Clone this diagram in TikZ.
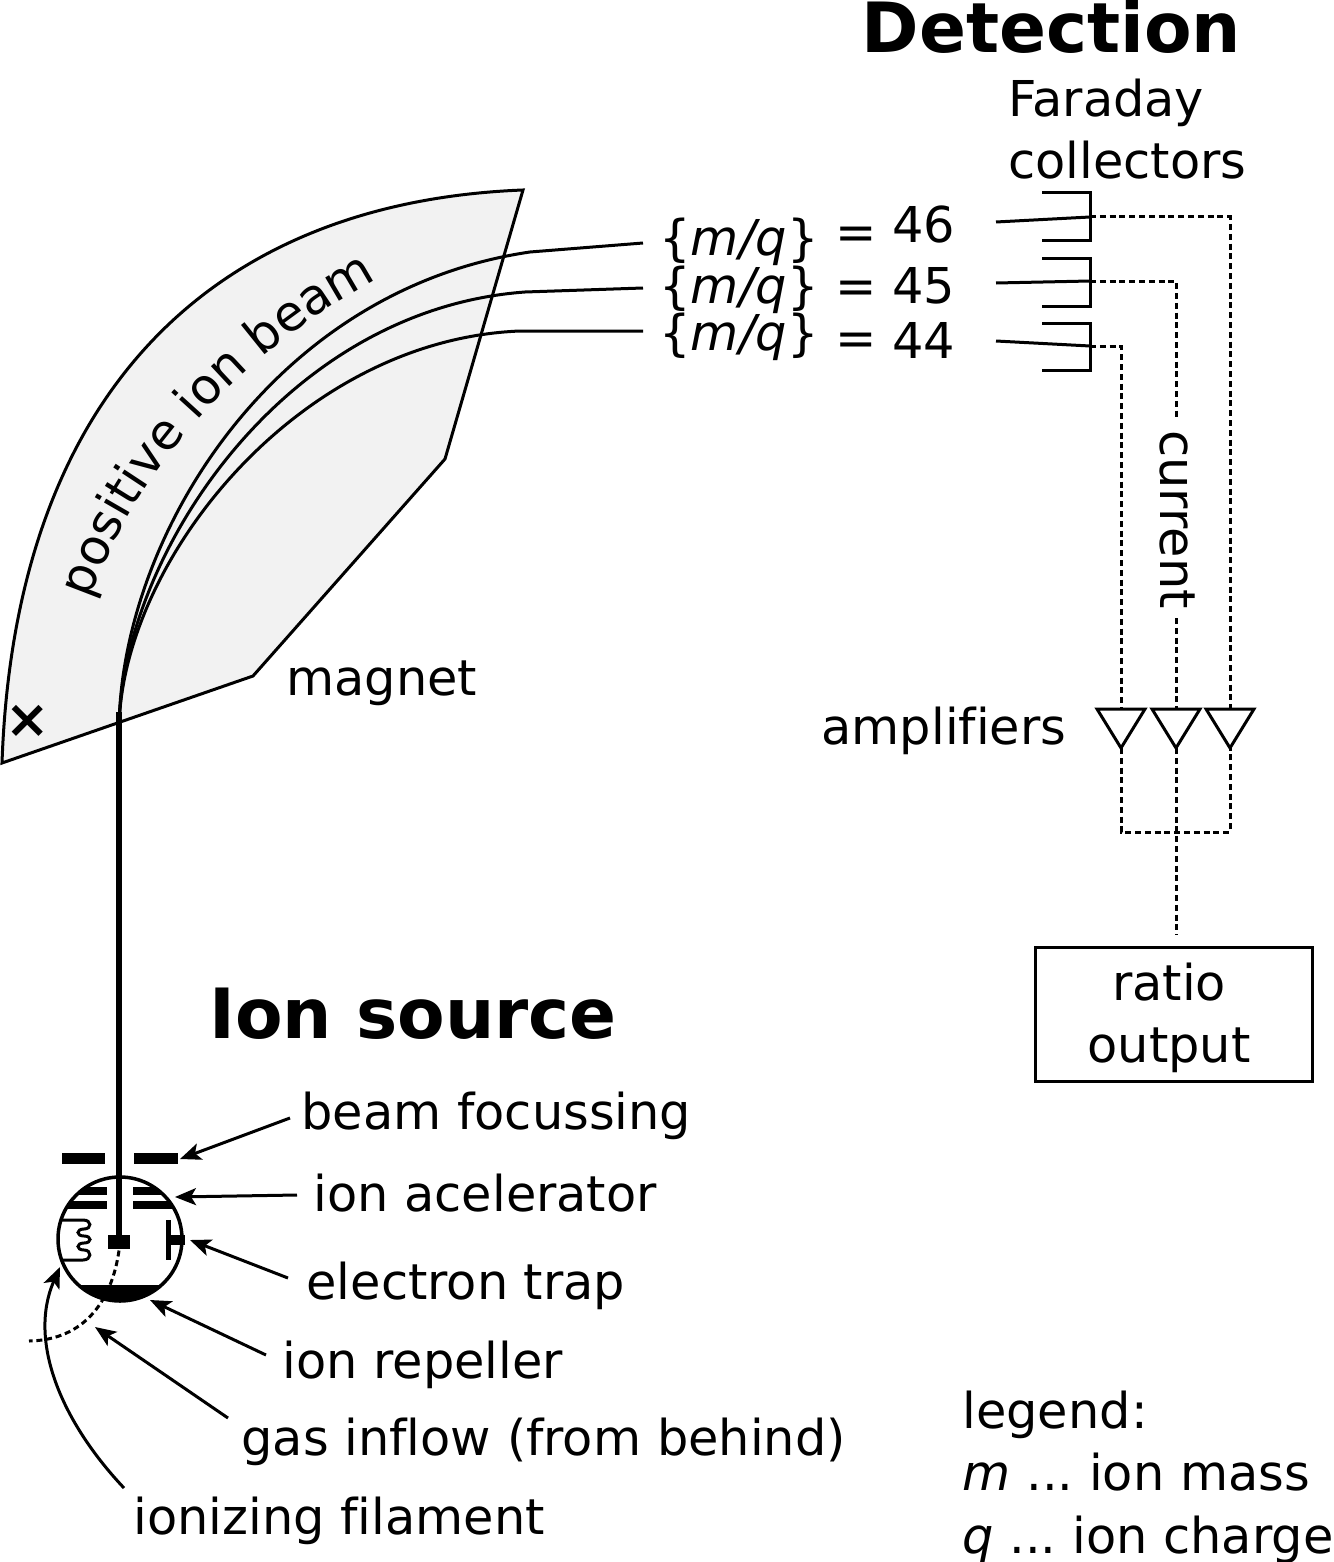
\documentclass[tikz,border=0pt]{standalone}
\usepackage{fontspec}
\setmainfont[Ligatures=NoCommon]{DejaVu Sans}
\usepackage{tikz}
\usetikzlibrary{calc,positioning,arrows.meta,decorations.text}
\frenchspacing

\begin{document}
\begin{tikzpicture}[x=1pt,y=-1pt,line width=3pt,
    lbl/.style={inner sep=0pt,anchor=base west,font=\fontsize{49.4}{62}\selectfont},
    headline/.style={inner sep=0pt,anchor=base west,font=\fontsize{69.3}{70}\selectfont\bfseries},
    ptr/.style={-{Stealth[length=21pt,width=17pt,inset=5pt]}},
    wire/.style={dash pattern=on 6pt off 3.8pt},
    plate/.style={fill=black,draw=none,inner sep=0pt}]
    \useasboundingbox (0,0) rectangle (1333,1562);

    % magnet
    \coordinate (c1) at (2,763);
    \coordinate (c2) at (253,676);
    \coordinate (c3) at (445,459);
    \coordinate (c4) at (523,190);
    \draw[fill=black!5] (c1) -- (c2) -- (c3) -- (c4) .. controls (215,202) and (15,390) .. (c1) -- cycle;
    \node[lbl] (magnet) at (285,695) {magnet};
    \node[font=\fontsize{53}{53}\selectfont\bfseries,inner sep=0pt] (cross) at (28,721) {×};
    \path[decorate,decoration={text along path,text align=left,
      text={|\fontsize{49.4}{62}\selectfont|positive ion beam}}]
      (90,600) .. controls (135,470) and (245,340) .. (415,260);

    % ion beam
    \coordinate (bend) at (119,730);
    \coordinate (merged) at (119,712);
    \coordinate (in46) at (643,243);
    \coordinate (in45) at (643,288);
    \coordinate (in44) at (643,331);
    \node[plate,minimum width=22pt,minimum height=14pt] (ionbox) at (119,1242) {};
    \draw[line width=5.5pt] (ionbox.center) -- (merged);
    \draw (bend) .. controls (120,540) and (270,290) .. (530,252) -- (in46);
    \draw (bend) .. controls (120,560) and (280,310) .. (525,292) -- (in45);
    \draw (bend) .. controls (120,565) and (295,340) .. (520,331) -- (in44);

    \foreach \n/\ya/\yb/\yc in {46/255/243/250,45/303/303/303,44/350/358/355} {
      \node[lbl] (mq\n) at (658,\ya) {\{\textit{m/q}\}};
      \node[lbl] (eq\n) at (834,\yc) {=};
      \node[lbl] (val\n) at (891,\yb) {\n};
    }

    % collectors
    \node[headline] (detection) at (860,53) {Detection};
    \node[lbl,align=left,anchor=north west] (faraday) at (1007,77) {Faraday\\collectors};
    \foreach \n/\ya/\yb/\yc/\yi in {46/193/241/217/222,45/258/306/281/283,44/323/370/346/341} {
      \coordinate (cup\n) at (1090,\yc);
      \coordinate (out\n) at (996,\yi);
      \draw (1042,\ya) -- (1090,\ya) -- (1090,\yb) -- (1042,\yb);
      \draw (out\n) -- (cup\n);
    }

    % amplifiers
    \foreach \n/\x in {44/1121,45/1176,46/1230} {
      \coordinate (amp\n) at (\x,708);
      \coordinate (ampout\n) at (\x,748);
      \draw (\x-24,709) -- (\x+24,709) -- (ampout\n) -- cycle;
    }
    \node[lbl] (amplifiers) at (820,744) {amplifiers};
    \node[lbl,rotate=-90] (current) at (1160,429) {current};
    \coordinate (gapa) at (1176,420);
    \coordinate (gapb) at (1176,618);
    \coordinate (junction) at (1176,832);
    \coordinate (ratioin) at (1176,935);
    \node[draw,minimum width=277pt,minimum height=134pt,inner sep=0pt] (ratio) at (1173.5,1014) {};
    \node[lbl,anchor=center,align=center,yshift=-4pt] (ratiotext) at (1169,1014) {ratio\\output};

    \draw[wire] (cup46) -| (amp46);
    \draw[wire] (cup45) -| (gapa);
    \draw[wire] (gapb) -- (amp45);
    \draw[wire] (cup44) -| (amp44);
    \draw[wire] (ampout44) |- (junction) -| (ampout46);
    \draw[wire] (ampout45) -- (ratioin);

    % ion source
    \node[headline] (source) at (208,1038) {Ion source};
    \begin{scope}
      \clip (120,1239) circle (62);
      \fill (40,1285) rectangle (200,1310);
      \fill (40,1187) rectangle (107,1195);
      \fill (40,1201) rectangle (107,1209);
      \fill (133,1187) rectangle (200,1195);
      \fill (133,1201) rectangle (200,1209);
    \end{scope}
    \draw[line width=3.5pt] (120,1239) circle (62);
    \node[plate,minimum width=43pt,minimum height=11pt] (lens1) at (83.5,1158.5) {};
    \node[plate,minimum width=44pt,minimum height=11pt] (lens2) at (156,1158.5) {};
    \draw (60,1220) -- (83,1220) .. controls (92,1220) and (92,1229) .. (84,1229)
      .. controls (76,1229) and (76,1236) .. (84,1236) .. controls (92,1236) and (92,1243) .. (84,1243)
      .. controls (76,1243) and (76,1250) .. (84,1250) .. controls (92,1250) and (92,1260) .. (83,1260) -- (62,1260);
    \draw[line width=5pt] (168,1220) -- (168,1260);
    \draw[line width=9.5pt] (168,1240) -- (185,1240);
    \coordinate (gasend) at (29,1341);
    \draw[wire] (ionbox.south) .. controls (112,1300) and (85,1340) .. (gasend);

    % labels with arrows
    \coordinate (tfocus) at (180,1159);
    \coordinate (taccel) at (175,1197);
    \coordinate (ttrap) at (190,1240);
    \coordinate (trepel) at (150,1300);
    \coordinate (tgas) at (95,1327);
    \coordinate (tfil) at (60,1267);
    \coordinate (sfocus) at (290,1118);
    \coordinate (saccel) at (297,1195);
    \coordinate (strap) at (288,1278);
    \coordinate (srepel) at (266,1355);
    \coordinate (sgas) at (228,1418);
    \coordinate (sfil) at (124,1488);
    \node[lbl] (focus) at (300,1129) {beam focussing};
    \node[lbl] (accel) at (312,1211) {ion acelerator};
    \node[lbl] (trap) at (305,1299) {electron trap};
    \node[lbl] (repel) at (281,1378) {ion repeller};
    \node[lbl] (gas) at (240,1455) {gas inflow (from behind)};
    \node[lbl] (fil) at (132,1534) {ionizing filament};
    \draw[ptr] (sfocus) -- (tfocus);
    \draw[ptr] (saccel) -- (taccel);
    \draw[ptr] (strap) -- (ttrap);
    \draw[ptr] (srepel) -- (trepel);
    \draw[ptr] (sgas) -- (tgas);
    \draw[ptr] (sfil) .. controls (60,1420) and (28,1340) .. (tfil);

    % legend
    \node[lbl] (legend) at (961,1428) {legend:};
    \node[lbl] (legm) at (961,1490) {\textit{m} ... ion mass};
    \node[lbl] (legq) at (961,1553) {\textit{q} ... ion charge};
\end{tikzpicture}
\end{document}
